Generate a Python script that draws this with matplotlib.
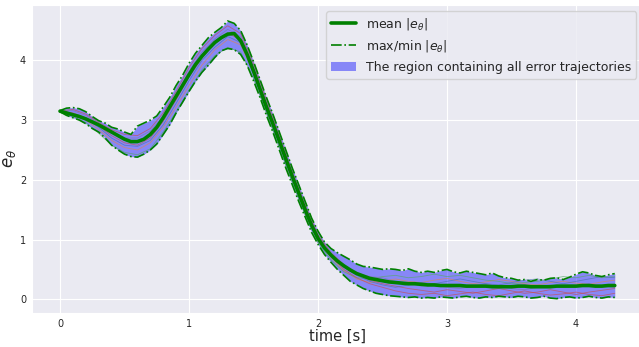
########################################################################
#   DESCRIPTION:
#       Heading error e_theta of a group of trajectories: mean curve,
#       max/min envelope and the shaded region holding all of them
########################################################################
import numpy as np
import matplotlib
matplotlib.use('Agg')
import matplotlib.pyplot as plt
import seaborn as sns
#-----------------------------------------------------------------------
# values, envelope and mean every 0.05 s
time = np.arange(0, 4.30001, 0.05)

meanErr = [3.15, 3.12, 3.09, 3.06, 3.02, 2.97, 2.92, 2.86, 2.80, 2.74,
           2.68, 2.64, 2.64, 2.68, 2.76, 2.88, 3.04, 3.22, 3.40, 3.58,
           3.76, 3.93, 4.07, 4.19, 4.30, 4.38, 4.44, 4.45, 4.33, 4.10,
           3.82, 3.52, 3.22, 2.94, 2.65, 2.35, 2.06, 1.78, 1.50, 1.24,
           1.02, 0.86, 0.74, 0.64, 0.56, 0.49, 0.43, 0.39, 0.35, 0.33,
           0.31, 0.29, 0.28, 0.27, 0.26, 0.26, 0.25, 0.24, 0.24, 0.23,
           0.23, 0.23, 0.23, 0.22, 0.22, 0.22, 0.22, 0.21, 0.21, 0.21,
           0.21, 0.22, 0.22, 0.21, 0.21, 0.21, 0.21, 0.22, 0.22, 0.22,
           0.22, 0.23, 0.23, 0.22, 0.22, 0.23, 0.23]

maxErr = [3.16, 3.20, 3.21, 3.19, 3.14, 3.06, 2.99, 2.95, 2.88, 2.85,
          2.80, 2.76, 2.90, 2.95, 3.00, 3.07, 3.22, 3.38, 3.58, 3.75,
          3.95, 4.12, 4.25, 4.38, 4.47, 4.55, 4.66, 4.62, 4.50, 4.26,
          3.98, 3.68, 3.38, 3.10, 2.80, 2.50, 2.20, 1.92, 1.64, 1.36,
          1.14, 0.96, 0.85, 0.78, 0.72, 0.66, 0.59, 0.55, 0.54, 0.52,
          0.50, 0.51, 0.50, 0.48, 0.51, 0.47, 0.45, 0.47, 0.45, 0.48,
          0.50, 0.46, 0.44, 0.47, 0.45, 0.43, 0.41, 0.44, 0.39, 0.36,
          0.35, 0.32, 0.33, 0.30, 0.33, 0.32, 0.35, 0.36, 0.33, 0.37,
          0.42, 0.46, 0.44, 0.40, 0.38, 0.41, 0.43]

minErr = [3.14, 3.08, 3.04, 3.00, 2.94, 2.86, 2.80, 2.70, 2.58, 2.50,
          2.43, 2.39, 2.38, 2.43, 2.50, 2.60, 2.76, 2.92, 3.12, 3.30,
          3.48, 3.65, 3.80, 3.92, 4.05, 4.16, 4.20, 4.18, 4.10, 3.92,
          3.66, 3.38, 3.08, 2.80, 2.50, 2.20, 1.92, 1.64, 1.38, 1.12,
          0.92, 0.75, 0.62, 0.50, 0.40, 0.30, 0.24, 0.18, 0.14, 0.10,
          0.08, 0.06, 0.05, 0.04, 0.03, 0.04, 0.02, 0.03, 0.02, 0.04,
          0.03, 0.02, 0.04, 0.05, 0.03, 0.02, 0.04, 0.03, 0.05, 0.04,
          0.03, 0.05, 0.04, 0.02, 0.03, 0.05, 0.02, 0.01, 0.03, 0.04,
          0.02, 0.03, 0.05, 0.03, 0.02, 0.04, 0.03]

# single trajectories, every 0.1 s
trajTime = np.arange(0, 4.30001, 0.1)
trajectories = [
    [3.15, 3.18, 3.10, 2.96, 2.84, 2.76, 2.74, 2.86, 3.12, 3.48, 3.88,
     4.20, 4.42, 4.58, 4.45, 3.94, 3.34, 2.74, 2.14, 1.58, 1.08, 0.78,
     0.58, 0.42, 0.32, 0.26, 0.22, 0.18, 0.15, 0.12, 0.16, 0.13, 0.10,
     0.14, 0.18, 0.14, 0.10, 0.12, 0.16, 0.12, 0.08, 0.12, 0.15, 0.18],
    [3.15, 3.08, 3.00, 2.84, 2.66, 2.54, 2.50, 2.62, 2.88, 3.22, 3.58,
     3.92, 4.18, 4.35, 4.26, 3.80, 3.22, 2.62, 2.02, 1.46, 0.98, 0.70,
     0.48, 0.34, 0.28, 0.30, 0.34, 0.30, 0.28, 0.32, 0.35, 0.30, 0.26,
     0.29, 0.33, 0.30, 0.26, 0.24, 0.28, 0.30, 0.27, 0.25, 0.29, 0.32],
    [3.15, 3.06, 2.96, 2.78, 2.58, 2.46, 2.42, 2.52, 2.80, 3.14, 3.50,
     3.84, 4.08, 4.22, 4.14, 3.70, 3.12, 2.54, 1.96, 1.42, 0.95, 0.66,
     0.46, 0.36, 0.34, 0.38, 0.40, 0.36, 0.38, 0.42, 0.38, 0.40, 0.36,
     0.32, 0.30, 0.26, 0.28, 0.30, 0.34, 0.38, 0.36, 0.40, 0.36, 0.38],
    [3.15, 3.16, 3.08, 2.94, 2.80, 2.70, 2.70, 2.82, 3.06, 3.42, 3.82,
     4.14, 4.36, 4.52, 4.40, 3.90, 3.30, 2.70, 2.10, 1.54, 1.04, 0.76,
     0.56, 0.44, 0.38, 0.36, 0.30, 0.26, 0.22, 0.24, 0.20, 0.18, 0.22,
     0.26, 0.22, 0.18, 0.16, 0.20, 0.24, 0.20, 0.22, 0.26, 0.22, 0.20],
    [3.15, 3.12, 3.04, 2.90, 2.74, 2.62, 2.58, 2.70, 2.98, 3.34, 3.72,
     4.04, 4.28, 4.46, 4.34, 3.86, 3.28, 2.68, 2.08, 1.52, 1.02, 0.72,
     0.50, 0.36, 0.26, 0.20, 0.14, 0.10, 0.08, 0.10, 0.06, 0.09, 0.12,
     0.08, 0.06, 0.10, 0.14, 0.10, 0.07, 0.09, 0.12, 0.08, 0.06, 0.10],
    [3.15, 3.10, 3.02, 2.88, 2.70, 2.58, 2.56, 2.66, 2.92, 3.28, 3.66,
     4.00, 4.22, 4.40, 4.30, 3.84, 3.26, 2.66, 2.06, 1.50, 1.00, 0.74,
     0.54, 0.40, 0.30, 0.24, 0.20, 0.24, 0.28, 0.26, 0.30, 0.34, 0.30,
     0.26, 0.24, 0.28, 0.32, 0.34, 0.30, 0.26, 0.30, 0.34, 0.38, 0.36],
]
trajColors = ['#C44E52', '#DD8452', '#55A868', '#8172B3', '#C44E52', '#4C72B0']
#-----------------------------------------------------------------------
sns.set_style('darkgrid')
plt.rcParams['font.family'] = ['DejaVu Sans']

fig = plt.figure(figsize=(6.39, 3.47), dpi=100)
ax = fig.add_axes([0.0505, 0.098, 0.955, 0.888])

ax.fill_between(time, minErr, maxErr, color='b', alpha=0.42, linewidth=0,
                label='The region containing all error trajectories', zorder=2)
for traj, col in zip(trajectories, trajColors):
    ax.plot(trajTime, traj, color=col, linewidth=0.6, alpha=0.7, zorder=3)
ax.plot(time, maxErr, 'g-.', linewidth=1.2, zorder=4, label=r'max/min $|e_\theta|$')
ax.plot(time, minErr, 'g-.', linewidth=1.2, zorder=4)
ax.plot(time, meanErr, color='g', linewidth=2.6, zorder=5, label=r'mean $|e_\theta|$')

ax.set_xlim(-0.215, 4.515)
ax.set_ylim(-0.23, 4.93)
ax.set_xticks([0, 1, 2, 3, 4])
ax.set_yticks([0, 1, 2, 3, 4])
ax.tick_params(labelsize=7, pad=1)
ax.set_xlabel('time [s]', fontsize=10.5)
ax.set_ylabel(r'$e_\theta$', fontsize=12)
ax.xaxis.set_label_coords(0.5, -0.052)
ax.yaxis.set_label_coords(-0.024, 0.5)

handles, labels = ax.get_legend_handles_labels()
order = [2, 1, 0]
ax.legend([handles[i] for i in order], [labels[i] for i in order],
          loc='upper right', fontsize=9)

fig.savefig('out.png', dpi=100)
